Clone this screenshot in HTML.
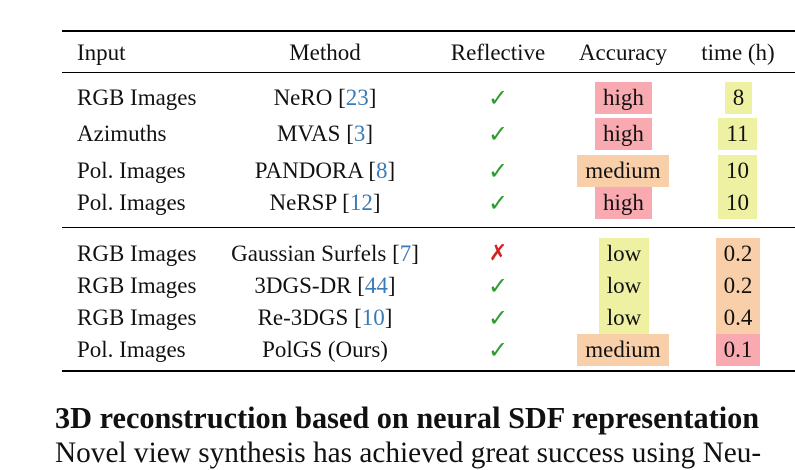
<!DOCTYPE html>
<html><head><meta charset="utf-8"><style>
body{margin:0;width:795px;height:466px;background:#fff;overflow:hidden;position:relative;font-family:"Liberation Serif",serif;color:#111}
.t{position:absolute;font-size:23px;line-height:32px;height:32px;white-space:nowrap}
.c{transform:translateX(-50%)}
.r{position:absolute;left:62px;right:0;background:#000}
.cite{color:#3b7bb5}
.ok{color:#2c9c2c;font-family:"DejaVu Sans",sans-serif;font-size:24px;font-weight:bold}
.no{color:#d42020;font-family:"DejaVu Sans",sans-serif;font-size:22px;font-weight:bold}
.bx{position:absolute;height:32px;line-height:32px;font-size:23px;text-align:center;white-space:nowrap}
.hi{background:#f8aab0}.me{background:#f9cfa9}.lo{background:#eef0a2}
.h{position:absolute;left:55px;white-space:nowrap}
</style></head><body>
<div class="r" style="top:30px;height:2px"></div>
<div class="r" style="top:72px;height:1px"></div>
<div class="r" style="top:227px;height:1px"></div>
<div class="r" style="top:370px;height:2px"></div>

<div class="t" style="left:77px;top:37px">Input</div>
<div class="t c" style="left:325px;top:37px">Method</div>
<div class="t c" style="left:498px;top:37px">Reflective</div>
<div class="t c" style="left:623px;top:37px">Accuracy</div>
<div class="t c" style="left:738px;top:37px">time (h)</div>

<div class="t" style="left:77px;top:82px">RGB Images</div>
<div class="t c" style="left:325px;top:82px">NeRO [<span class="cite">23</span>]</div>
<div class="t c ok" style="left:498px;top:82px">✓</div>
<div class="bx hi" style="left:595px;width:57px;top:82px">high</div>
<div class="bx lo" style="left:725px;width:27px;top:82px">8</div>

<div class="t" style="left:77px;top:118px">Azimuths</div>
<div class="t c" style="left:325px;top:118px">MVAS [<span class="cite">3</span>]</div>
<div class="t c ok" style="left:498px;top:118px">✓</div>
<div class="bx hi" style="left:595px;width:57px;top:118px">high</div>
<div class="bx lo" style="left:718px;width:39px;top:118px">11</div>

<div class="t" style="left:77px;top:155px">Pol. Images</div>
<div class="t c" style="left:325px;top:155px">PANDORA [<span class="cite">8</span>]</div>
<div class="t c ok" style="left:498px;top:155px">✓</div>
<div class="bx me" style="left:577px;width:92px;top:155px">medium</div>
<div class="bx lo" style="left:718px;width:39px;top:155px">10</div>

<div class="t" style="left:77px;top:187px">Pol. Images</div>
<div class="t c" style="left:325px;top:187px">NeRSP [<span class="cite">12</span>]</div>
<div class="t c ok" style="left:498px;top:187px">✓</div>
<div class="bx hi" style="left:595px;width:57px;top:187px">high</div>
<div class="bx lo" style="left:718px;width:39px;top:187px">10</div>

<div class="t" style="left:77px;top:238px">RGB Images</div>
<div class="t c" style="left:325px;top:238px">Gaussian Surfels [<span class="cite">7</span>]</div>
<div class="t c no" style="left:498px;top:238px">✗</div>
<div class="bx lo" style="left:599px;width:50px;top:238px">low</div>
<div class="bx me" style="left:716px;width:44px;top:238px">0.2</div>

<div class="t" style="left:77px;top:270px">RGB Images</div>
<div class="t c" style="left:325px;top:270px">3DGS-DR [<span class="cite">44</span>]</div>
<div class="t c ok" style="left:498px;top:270px">✓</div>
<div class="bx lo" style="left:599px;width:50px;top:270px">low</div>
<div class="bx me" style="left:716px;width:44px;top:270px">0.2</div>

<div class="t" style="left:77px;top:302px">RGB Images</div>
<div class="t c" style="left:325px;top:302px">Re-3DGS [<span class="cite">10</span>]</div>
<div class="t c ok" style="left:498px;top:302px">✓</div>
<div class="bx lo" style="left:599px;width:50px;top:302px">low</div>
<div class="bx me" style="left:716px;width:44px;top:302px">0.4</div>

<div class="t" style="left:77px;top:334px">Pol. Images</div>
<div class="t c" style="left:325px;top:334px">PolGS (Ours)</div>
<div class="t c ok" style="left:498px;top:334px">✓</div>
<div class="bx me" style="left:577px;width:92px;top:334px">medium</div>
<div class="bx hi" style="left:716px;width:44px;top:334px">0.1</div>

<div class="h" style="top:401px;font-size:30.3px;font-weight:bold">3D reconstruction based on neural SDF representation</div>
<div class="h" style="top:437px;font-size:29.3px">Novel view synthesis has achieved great success using Neu-</div>
</body></html>
